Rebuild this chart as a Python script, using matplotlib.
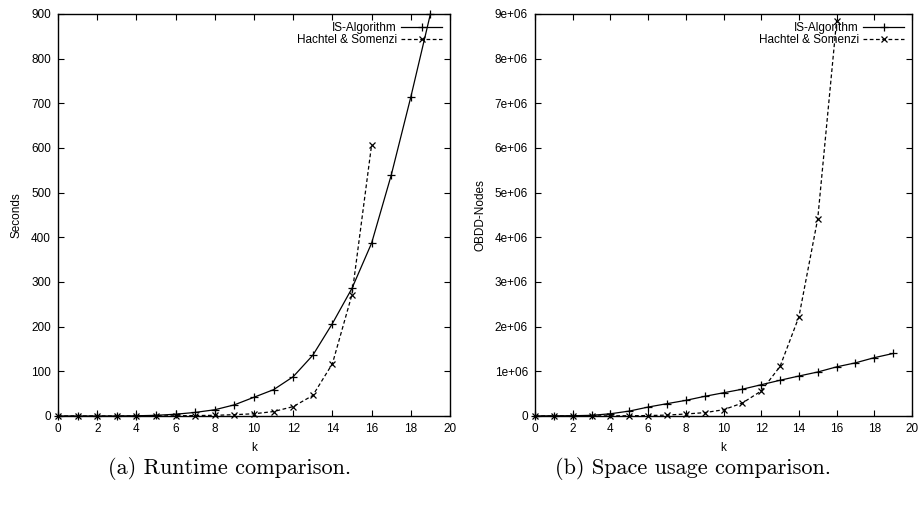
import numpy as np
import matplotlib
matplotlib.use("Agg")
import matplotlib.pyplot as plt

plt.rcParams.update({
    "font.family": "Liberation Sans",
    "font.size": 8.5,
    "xtick.direction": "in",
    "ytick.direction": "in",
    "xtick.top": True,
    "ytick.right": True,
    "xtick.major.size": 4,
    "ytick.major.size": 4,
    "axes.linewidth": 1.0,
    "lines.linewidth": 0.9,
})

# --- data -------------------------------------------------------------------
k_is = list(range(20))
k_hs = list(range(17))

runtime_is = [0, 0, 0, 0, 0.5, 1.5, 4, 8, 14, 25, 42, 59, 88, 136, 207, 286, 387, 539, 714, 900]
runtime_hs = [0, 0, 0, 0, 0, 0, 0.5, 1, 1.5, 3, 5, 10, 21, 46, 117, 272, 607]

nodes_is = [2e3, 4e3, 6e3, 1.5e4, 5e4, 1.1e5, 2.0e5, 2.76e5, 3.5e5, 4.4e5,
            5.2e5, 6.0e5, 7.0e5, 8.0e5, 8.95e5, 9.85e5, 1.10e6, 1.19e6, 1.306e6, 1.40e6]
nodes_hs = [0, 0, 0, 2e3, 4e3, 6e3, 1e4, 2e4, 4.5e4, 7.5e4, 1.4e5, 2.9e5,
            5.6e5, 1.11e6, 2.22e6, 4.42e6, 8.85e6]

labels = ["IS-Algorithm", "Hachtel & Somenzi"]
captions = ["(a) Runtime comparison.", "(b) Space usage comparison."]

fig = plt.figure(figsize=(9.21, 5.15), dpi=100)

ax1 = fig.add_axes([58 / 921, 99 / 515, 392 / 921, 402 / 515])
ax2 = fig.add_axes([535 / 921, 99 / 515, 377 / 921, 402 / 515])

panels = [
    (ax1, runtime_is, runtime_hs, "Seconds", 900, 100, lambda v: f"{int(v)}"),
    (ax2, nodes_is, nodes_hs, "OBDD-Nodes", 9e6, 1e6,
     lambda v: "0" if v == 0 else f"{int(round(v / 1e6))}e+06"),
]

for ax, ys_is, ys_hs, ylab, ymax, ystep, fmt in panels:
    ax.plot(k_is, ys_is, color="black", linestyle="-", marker="+",
            markersize=6, markeredgewidth=0.9, label=labels[0], clip_on=False)
    ax.plot(k_hs, ys_hs, color="black", linestyle=(0, (3, 2)), marker="x",
            markersize=5, markeredgewidth=0.9, label=labels[1], clip_on=False)
    ax.set_xlim(0, 20)
    ax.set_ylim(0, ymax)
    ax.set_xticks(np.arange(0, 21, 2))
    yt = np.arange(0, ymax + ystep / 2, ystep)
    ax.set_yticks(yt)
    ax.set_yticklabels([fmt(v) for v in yt])
    ax.set_xlabel("k", labelpad=5)
    ax.set_ylabel(ylab, labelpad=6)
    ax.tick_params(labelsize=8.5, pad=5)
    ax.legend(loc="upper right", frameon=False, markerfirst=False,
              handlelength=3.5, handletextpad=0.35, labelspacing=0.05,
              borderaxespad=0.45, borderpad=0.2, fontsize=8.5)

fig.text(230 / 921, 1 - 468 / 515, captions[0], ha="center", va="center",
         family="cmr10", fontsize=16)
fig.text(693 / 921, 1 - 468 / 515, captions[1], ha="center", va="center",
         family="cmr10", fontsize=16)

fig.savefig("out.png", dpi=100, facecolor="white")
